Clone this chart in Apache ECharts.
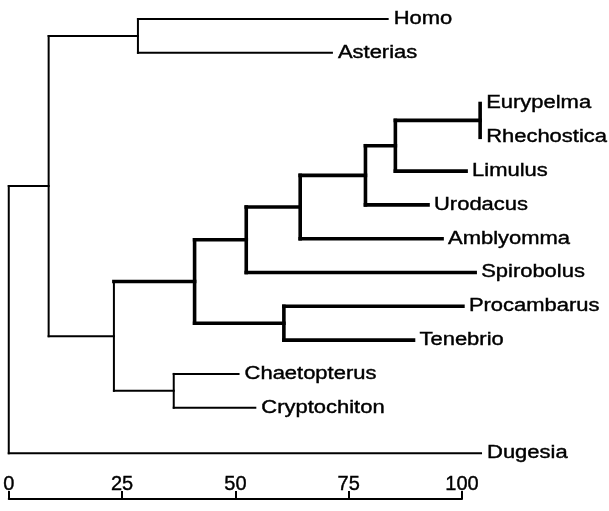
<!DOCTYPE html>
<html>
<head>
<meta charset="utf-8">
<script src="https://cdn.jsdelivr.net/npm/echarts@6/dist/echarts.min.js"></script>
<style>
html,body{margin:0;padding:0;background:#fff;}
#chart{width:609px;height:511px;}
</style>
</head>
<body>
<div id="chart"></div>
<script>
// ---- data ----
// leaves (taxa), their vertical row and branch-tip distance on the 0-100 scale
var leafNames = ['Homo','Asterias','Eurypelma','Rhechostica','Limulus','Urodacus','Amblyomma','Spirobolus','Procambarus','Tenebrio','Chaetopterus','Cryptochiton','Dugesia'];
var leafRows  = [0, 1, 2.5, 3.5, 4.5, 5.5, 6.5, 7.5, 8.5, 9.5, 10.5, 11.5, 12.85];
var leafDist  = [83.6, 71.3, 104.0, 104.0, 100.9, 92.5, 95.6, 102.9, 100.2, 89.3, 50.7, 54.4, 104.2];
// internal nodes: name, distance, children
var nodeNames    = ['root','N1','H','B','Arth','S','A','U','L','ER','P','C'];
var nodeDist     = [0, 8.8, 28.5, 23.2, 41.0, 52.4, 64.3, 78.7, 85.3, 104.0, 60.7, 36.4];
var nodeChildren = [
  ['N1','Dugesia'],
  ['H','B'],
  ['Homo','Asterias'],
  ['Arth','C'],
  ['S','P'],
  ['A','Spirobolus'],
  ['U','Amblyomma'],
  ['L','Urodacus'],
  ['ER','Limulus'],
  ['Eurypelma','Rhechostica'],
  ['Procambarus','Tenebrio'],
  ['Chaetopterus','Cryptochiton']
];
var thickClade = 'Arth';            // clade drawn with heavy lines
var tickValues = [0, 25, 50, 75, 100];

// ---- tree layout ----
var info = {};
leafNames.forEach(function(n,i){ info[n] = {x: leafDist[i], y: leafRows[i], leaf: true}; });
nodeNames.forEach(function(n,i){ info[n] = {x: nodeDist[i], children: nodeChildren[i], leaf: false}; });
function getY(n){
  var d = info[n];
  if (d.y === undefined){
    var ys = d.children.map(getY);
    d.y = (Math.min.apply(null, ys) + Math.max.apply(null, ys)) / 2;
  }
  return d.y;
}
getY('root');
function markThick(n){
  info[n].thick = true;
  if (!info[n].leaf) info[n].children.forEach(markThick);
}
markThick(thickClade);

var segments = [];
nodeNames.forEach(function(n){
  var d = info[n];
  var ys = d.children.map(function(c){ return info[c].y; });
  segments.push([d.x, Math.min.apply(null, ys), d.x, Math.max.apply(null, ys), d.thick ? 1 : 0]);
  d.children.forEach(function(c){
    var cd = info[c];
    if (cd.x > d.x) segments.push([d.x, cd.y, cd.x, cd.y, cd.thick ? 1 : 0]);
  });
});
var labelData = leafNames.map(function(n){ return [info[n].x, info[n].y, n]; });

var chart = echarts.init(document.getElementById('chart'), null, {renderer:'canvas'});
chart.setOption({
  backgroundColor: '#fff',
  animation: false,
  grid: {left: 6, top: 19, width: 456, height: 480, containLabel: false},
  xAxis: {
    type: 'value', min: 0, max: 100, interval: 25, position: 'bottom',
    axisLine: {show: true, onZero: false, lineStyle: {color: '#000', width: 2}},
    axisTick: {show: true, inside: true, length: 8, lineStyle: {color: '#000', width: 2}},
    axisLabel: {inside: true, margin: 5, color: '#000', fontSize: 20, fontFamily: 'Liberation Sans',
      textBorderColor: '#000', textBorderWidth: 0.4,
      customValues: tickValues, formatter: function(v){ return String(v); }},
    splitLine: {show: false}
  },
  yAxis: {type: 'value', min: 0, max: 14.2, inverse: true, show: false},
  series: [
    {
      type: 'custom', clip: false, silent: true,
      data: segments,
      renderItem: function(params, api){
        var p1 = api.coord([api.value(0), api.value(1)]);
        var p2 = api.coord([api.value(2), api.value(3)]);
        var w = api.value(4) ? 3.6 : 2;
        return {type: 'line', shape: {x1: p1[0], y1: p1[1], x2: p2[0], y2: p2[1]},
          style: {stroke: '#000', lineWidth: w, lineCap: 'square'}};
      }
    },
    {
      type: 'custom', clip: false, silent: true,
      data: labelData,
      dimensions: ['x','y','name'],
      renderItem: function(params, api){
        var p = api.coord([api.value(0), api.value(1)]);
        return {type: 'text', x: p[0] + 6, y: p[1], scaleX: 1.22, originX: 0,
          style: {text: labelData[params.dataIndex][2], fill: '#000', font: '18px "Liberation Sans"',
            stroke: '#000', lineWidth: 0.4,
            align: 'left', verticalAlign: 'middle'}};
      }
    }
  ]
});
</script>
</body>
</html>
